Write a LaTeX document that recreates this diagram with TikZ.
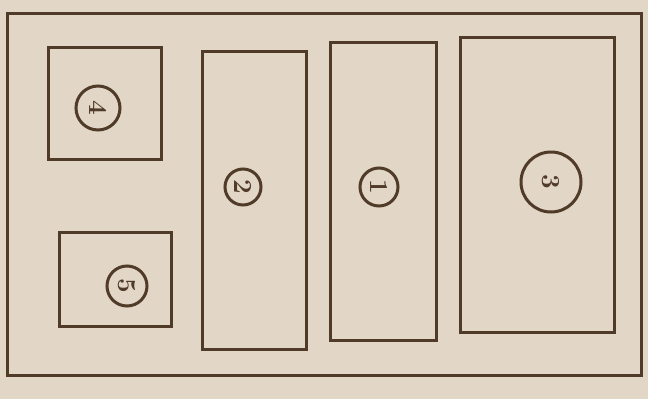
\documentclass[tikz,border=0pt]{standalone}
\usepackage{xcolor}
\usepackage{tikz}
\usetikzlibrary{positioning}
\definecolor{papel}{RGB}{226,214,199}
\definecolor{tinta}{RGB}{80,58,40}

\begin{document}
\begin{tikzpicture}[x=1pt,y=-1pt]
\tikzset{caja/.style={draw=tinta,line width=3.4pt,anchor=north west,inner sep=0pt},
  numero/.style={draw=tinta,circle,line width=3pt,text=tinta,font=\fontsize{26}{26}\selectfont\bfseries,rotate=-90,inner sep=1pt,minimum size=42pt}}
\fill[papel] (0,0) rectangle (648,399);
\useasboundingbox (0,0) rectangle (648,399);
\node[caja,minimum width=634pt,minimum height=362pt] (marco) at (6,12) {};
\node[caja,minimum width=113pt,minimum height=112pt] (cajaD) at (47,46) {};
\node[caja,minimum width=112pt,minimum height=94pt] (cajaE) at (58,231) {};
\node[caja,minimum width=104pt,minimum height=298pt] (cajaB) at (201,50) {};
\node[caja,minimum width=106pt,minimum height=298pt] (cajaA) at (329,41) {};
\node[caja,minimum width=154pt,minimum height=295pt] (cajaC) at (459,36) {};
\node[numero,minimum size=44pt] (n4) at (98,108) {4};
\node[numero,minimum size=40pt] (n5) at (127,286) {5};
\node[numero,minimum size=36pt] (n2) at (243,187) {2};
\node[numero,minimum size=38pt] (n1) at (379,187) {1};
\node[numero,minimum size=60pt] (n3) at (551,182) {3};
\end{tikzpicture}
\end{document}
